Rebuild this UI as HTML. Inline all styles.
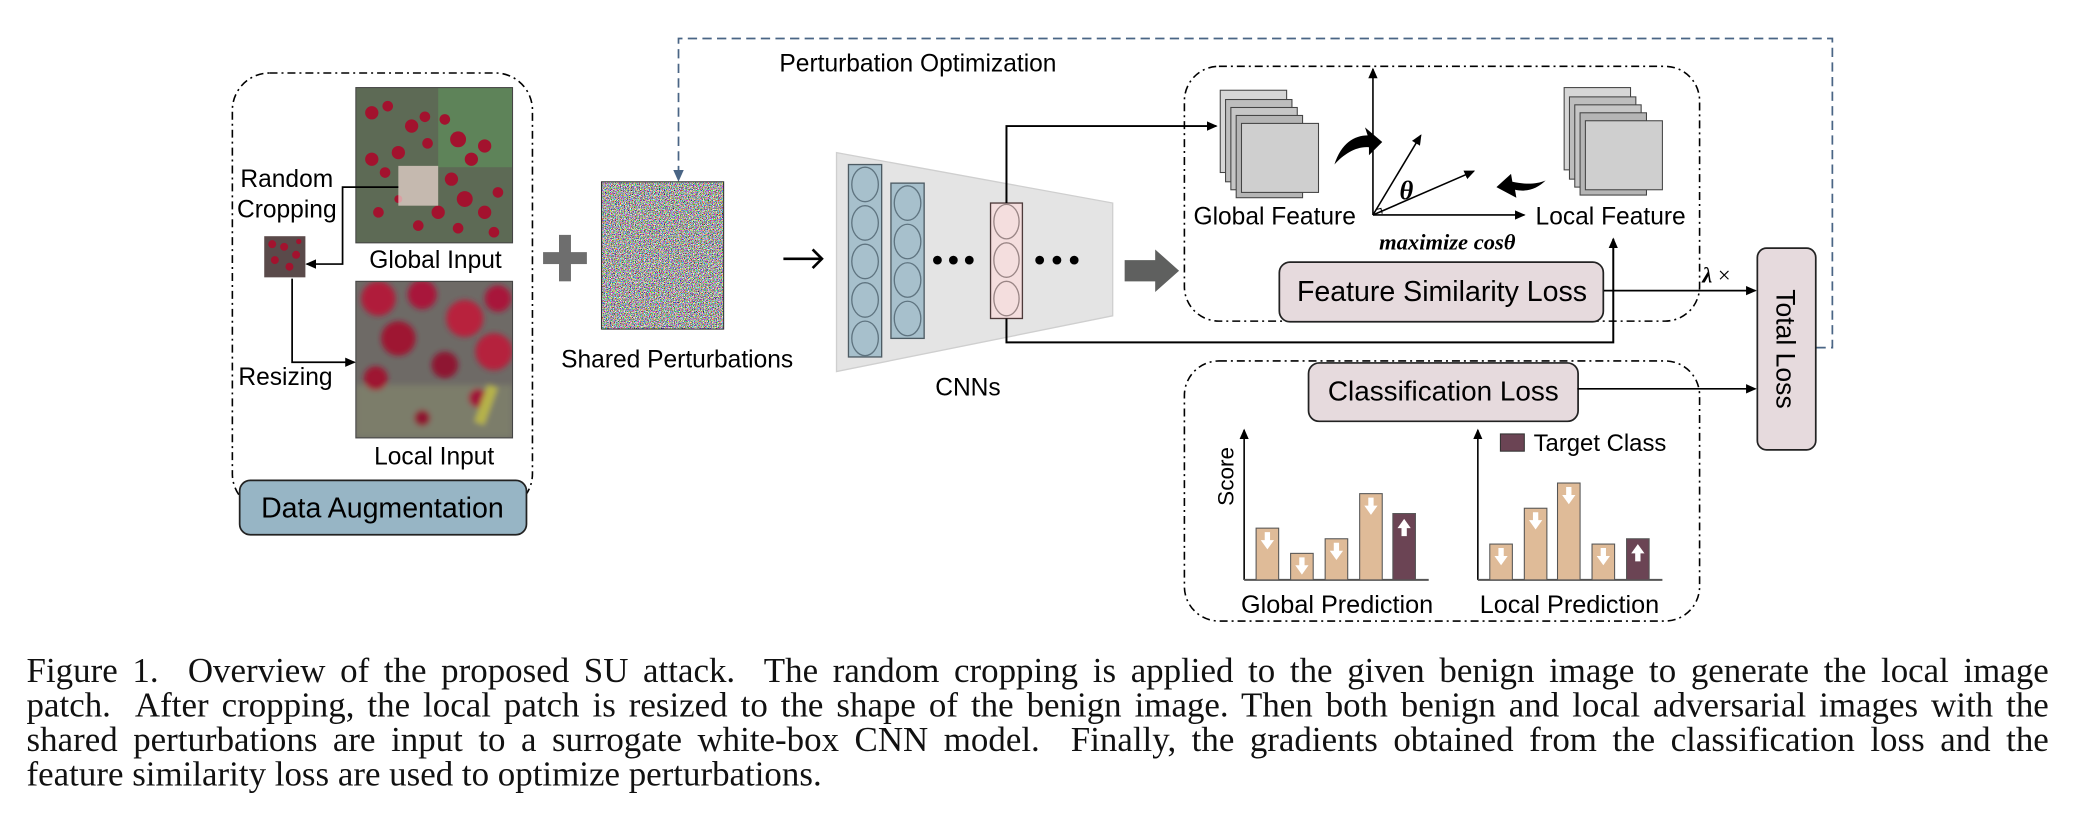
<!DOCTYPE html>
<html><head><meta charset="utf-8"><style>
html,body{margin:0;padding:0;background:#fff;}
#wrap{position:absolute;left:0;top:0;width:1568px;height:630px;transform:scale(1.3278,1.327);transform-origin:0 0;font-family:"Liberation Sans",sans-serif;}
svg{position:absolute;left:0;top:0;}
.cap{position:absolute;left:20px;top:493px;width:1523px;font-family:"Liberation Serif",serif;font-size:26.3px;line-height:26px;color:#111;}
.cap div{text-align:justify;text-align-last:justify;white-space:nowrap;}
.cap div.l{text-align-last:left;}
</style></head><body><div id="wrap">
<svg width="1568" height="630" viewBox="0 0 1568 630">
<defs>
<marker id="a" markerWidth="8" markerHeight="8" refX="7" refY="4" orient="auto" markerUnits="userSpaceOnUse"><path d="M0,0.5 L8,4 L0,7.5 z" fill="#000"/></marker>
<marker id="b" markerWidth="9" markerHeight="9" refX="8" refY="4.5" orient="auto" markerUnits="userSpaceOnUse"><path d="M0,0.5 L9,4.5 L0,8.5 z" fill="#4a6585"/></marker>
<filter id="nz" x="0" y="0" width="100%" height="100%"><feTurbulence type="fractalNoise" baseFrequency="1.6" numOctaves="1" seed="3"/><feColorMatrix type="matrix" values="5 0 0 0 -2  0 5 0 0 -2  0 0 5 0 -2  0 0 0 0 1"/></filter>
<filter id="bl"><feGaussianBlur stdDeviation="2"/></filter>
<clipPath id="cg"><rect x="268" y="66" width="118" height="117"/></clipPath>
<clipPath id="cl"><rect x="268" y="212" width="118" height="118"/></clipPath>
</defs>

<polyline points="1368,262 1380,262 1380,29 511,29 511,136" fill="none" stroke="#4a6585" stroke-width="1.3" stroke-dasharray="7 4" marker-end="url(#b)"/>
<text x="587" y="54" font-size="18.5">Perturbation Optimization</text>

<rect x="175" y="55" width="226" height="330" rx="28" fill="none" stroke="#000" stroke-width="1.2" stroke-dasharray="6 3 1.5 3"/>
<g clip-path="url(#cg)">
<rect x="268" y="66" width="118" height="117" fill="#5d6a55"/>
<rect x="330" y="66" width="56" height="60" fill="#5f8a5a" opacity=".8"/>
<g fill="#a3122e">
<circle cx="280" cy="85" r="5"/><circle cx="292" cy="80" r="4"/><circle cx="310" cy="95" r="5"/><circle cx="320" cy="88" r="4"/><circle cx="345" cy="105" r="6"/><circle cx="355" cy="120" r="5"/><circle cx="365" cy="110" r="5"/><circle cx="280" cy="120" r="5"/><circle cx="290" cy="130" r="4"/><circle cx="300" cy="115" r="5"/><circle cx="340" cy="135" r="5"/><circle cx="350" cy="150" r="6"/><circle cx="365" cy="160" r="5"/><circle cx="375" cy="145" r="4"/><circle cx="330" cy="160" r="5"/><circle cx="315" cy="170" r="4"/><circle cx="285" cy="160" r="4"/><circle cx="300" cy="150" r="3"/><circle cx="372" cy="175" r="4"/><circle cx="345" cy="172" r="4"/><circle cx="322" cy="108" r="4"/><circle cx="335" cy="90" r="4"/>
</g>
<rect x="300" y="125" width="30" height="30" fill="#f2dcd6" opacity=".7"/>
</g>
<rect x="268" y="66" width="118" height="117" fill="none" stroke="#444" stroke-width=".8"/>
<g clip-path="url(#cl)">
<rect x="268" y="212" width="118" height="118" fill="#6e6a66"/>
<g filter="url(#bl)">
<rect x="268" y="290" width="118" height="40" fill="#7c7d6a"/>
<circle cx="285" cy="225" r="13" fill="#b01a3a"/><circle cx="318" cy="222" r="11" fill="#a8183a"/><circle cx="350" cy="240" r="14" fill="#b8213e"/><circle cx="375" cy="225" r="10" fill="#a8183a"/><circle cx="300" cy="255" r="13" fill="#9e1532"/><circle cx="372" cy="265" r="14" fill="#b5203c"/><circle cx="335" cy="275" r="10" fill="#8e1430"/><circle cx="283" cy="285" r="9" fill="#9e1532"/><circle cx="318" cy="315" r="6" fill="#8e1430"/><circle cx="360" cy="300" r="7" fill="#a0183a"/>
<rect x="362" y="290" width="8" height="30" fill="#b6b24a" transform="rotate(20 366 305)"/>
</g>
</g>
<rect x="268" y="212" width="118" height="118" fill="none" stroke="#444" stroke-width=".8"/>
<rect x="199" y="178" width="31" height="31" fill="#5a4a4a"/>
<g fill="#a3122e"><circle cx="205" cy="184" r="3"/><circle cx="214" cy="186" r="3"/><circle cx="223" cy="192" r="3"/><circle cx="207" cy="196" r="3"/><circle cx="218" cy="201" r="3"/><circle cx="225" cy="182" r="2"/></g>
<polyline points="300,141 258,141 258,199 231,199" fill="none" stroke="#000" stroke-width="1.3" marker-end="url(#a)"/>
<polyline points="220,210 220,273 267,273" fill="none" stroke="#000" stroke-width="1.3" marker-end="url(#a)"/>
<text x="216" y="141" font-size="18.5" text-anchor="middle">Random</text>
<text x="216" y="164" font-size="18.5" text-anchor="middle">Cropping</text>
<text x="328" y="202" font-size="18.5" text-anchor="middle">Global Input</text>
<text x="215" y="290" font-size="18.5" text-anchor="middle">Resizing</text>
<text x="327" y="350" font-size="18.5" text-anchor="middle">Local Input</text>
<rect x="180.5" y="362" width="216" height="41" rx="8" fill="#97b5c5" stroke="#222" stroke-width="1.3"/>
<text x="288" y="390" font-size="21.5" text-anchor="middle">Data Augmentation</text>

<rect x="409" y="190" width="33" height="9" fill="#6e6e6e"/><rect x="421" y="177" width="9" height="35" fill="#6e6e6e"/>

<rect x="453" y="137" width="92" height="111" fill="#888" filter="url(#nz)"/>
<rect x="453" y="137" width="92" height="111" fill="none" stroke="#333" stroke-width=".8"/>
<text x="510" y="277" font-size="18.5" text-anchor="middle">Shared Perturbations</text>

<line x1="590" y1="195" x2="618" y2="195" stroke="#000" stroke-width="2"/>
<path d="M612,188 L619,195 L612,202" fill="none" stroke="#000" stroke-width="2"/>

<polygon points="630,115 838,153 838,238 630,280" fill="#e4e4e4" stroke="#cfcfcf"/>
<rect x="639" y="124" width="25" height="145" fill="#a7c0cc" stroke="#4d5b63"/>
<g fill="none" stroke="#5f7480"><ellipse cx="651.5" cy="139" rx="10" ry="13"/><ellipse cx="651.5" cy="168" rx="10" ry="13"/><ellipse cx="651.5" cy="197" rx="10" ry="13"/><ellipse cx="651.5" cy="226" rx="10" ry="13"/><ellipse cx="651.5" cy="255" rx="10" ry="13"/></g>
<rect x="671" y="138" width="25" height="117" fill="#a7c0cc" stroke="#4d5b63"/>
<g fill="none" stroke="#5f7480"><ellipse cx="683.5" cy="153" rx="10" ry="13"/><ellipse cx="683.5" cy="182" rx="10" ry="13"/><ellipse cx="683.5" cy="211" rx="10" ry="13"/><ellipse cx="683.5" cy="240" rx="10" ry="13"/></g>
<g fill="#000"><circle cx="706" cy="196" r="3.3"/><circle cx="718" cy="196" r="3.3"/><circle cx="730" cy="196" r="3.3"/><circle cx="783" cy="196" r="3.3"/><circle cx="796" cy="196" r="3.3"/><circle cx="809" cy="196" r="3.3"/></g>
<rect x="746" y="153" width="24" height="87" fill="#f4dede" stroke="#4d3a3a"/>
<g fill="none" stroke="#9a8686"><ellipse cx="758" cy="167" rx="9.5" ry="13"/><ellipse cx="758" cy="196" rx="9.5" ry="13"/><ellipse cx="758" cy="225" rx="9.5" ry="13"/></g>
<text x="729" y="298" font-size="18.5" text-anchor="middle">CNNs</text>
<polyline points="758,153 758,95 916,95" fill="none" stroke="#000" stroke-width="1.5" marker-end="url(#a)"/>
<polyline points="758,240 758,258 1215,258 1215,180" fill="none" stroke="#000" stroke-width="1.5" marker-end="url(#a)"/>
<polygon points="847,196 870,196 870,188 888,204 870,220 870,212 847,212" fill="#5f605f"/>

<rect x="892" y="50" width="388" height="192" rx="26" fill="none" stroke="#000" stroke-width="1.2" stroke-dasharray="6 3 1.5 3"/>
<g stroke="#444" stroke-width=".8">
<rect x="919" y="68" width="50" height="62" fill="#d6d6d6"/><rect x="923" y="75" width="50" height="62" fill="#bdbdbd"/><rect x="927" y="81" width="50" height="62" fill="#c6c6c6"/><rect x="931" y="87" width="50" height="62" fill="#b5b5b5"/><rect x="935" y="93" width="58" height="52" fill="#cfcfcf"/>
<rect x="1178" y="66" width="50" height="62" fill="#d6d6d6"/><rect x="1182" y="73" width="50" height="62" fill="#bdbdbd"/><rect x="1186" y="79" width="50" height="62" fill="#c6c6c6"/><rect x="1190" y="85" width="50" height="62" fill="#b5b5b5"/><rect x="1194" y="91" width="58" height="52" fill="#cfcfcf"/>
</g>
<line x1="1034" y1="162" x2="1034" y2="52" stroke="#000" stroke-width="1.2" marker-end="url(#a)"/>
<line x1="1034" y1="162" x2="1148" y2="162" stroke="#000" stroke-width="1.2" marker-end="url(#a)"/>
<line x1="1034" y1="162" x2="1070" y2="102" stroke="#000" stroke-width="1.2" marker-end="url(#a)"/>
<line x1="1034" y1="162" x2="1110" y2="129" stroke="#000" stroke-width="1.2" marker-end="url(#a)"/>
<path d="M1036,158 l4,-1 l1,4" fill="none" stroke="#000" stroke-width=".8"/>
<text x="1054" y="150" font-family="Liberation Serif,serif" font-weight="bold" font-style="italic" font-size="20">θ</text>
<path d="M1005,124 C1010,108 1020,102 1030,102 L1028,96 L1041,107 L1031,117 L1031,111 C1022,110 1012,116 1005,124 z" fill="#000"/>
<path d="M1164,136 C1158,142 1150,145 1141,143 L1142,149 L1127,141 L1138,131 L1139,137 C1148,139 1157,139 1164,136 z" fill="#000"/>
<text x="960" y="169" font-size="18.5" text-anchor="middle">Global Feature</text>
<text x="1213" y="169" font-size="18.5" text-anchor="middle">Local Feature</text>
<text x="1090" y="188" font-family="Liberation Serif,serif" font-weight="bold" font-style="italic" font-size="17" text-anchor="middle">maximize cosθ</text>
<rect x="963.5" y="197.5" width="244" height="45" rx="8" fill="#e6dadd" stroke="#222" stroke-width="1.3"/>
<text x="1086" y="227" font-size="21.5" text-anchor="middle">Feature Similarity Loss</text>
<line x1="1208" y1="219" x2="1322" y2="219" stroke="#000" stroke-width="1.3" marker-end="url(#a)"/>
<text x="1282" y="213" font-family="Liberation Serif,serif" font-size="17"><tspan font-weight="bold" font-style="italic">λ</tspan> ×</text>

<rect x="1323.5" y="187" width="44" height="152" rx="7" fill="#e6dadd" stroke="#222" stroke-width="1.3"/>
<text x="0" y="0" font-size="20" text-anchor="middle" transform="translate(1338,263) rotate(90)">Total Loss</text>

<rect x="892" y="272" width="388" height="196" rx="26" fill="none" stroke="#000" stroke-width="1.2" stroke-dasharray="6 3 1.5 3"/>
<rect x="985.5" y="273.5" width="203" height="44" rx="8" fill="#e6dadd" stroke="#222" stroke-width="1.3"/>
<text x="1087" y="302" font-size="21" text-anchor="middle">Classification Loss</text>
<line x1="1188" y1="293" x2="1322" y2="293" stroke="#000" stroke-width="1.3" marker-end="url(#a)"/>

<line x1="937" y1="437" x2="937" y2="324" stroke="#000" stroke-width="1.2" marker-end="url(#a)"/>
<line x1="937" y1="437" x2="1076" y2="437" stroke="#555" stroke-width="1.5"/>
<line x1="1113" y1="437" x2="1113" y2="324" stroke="#000" stroke-width="1.2" marker-end="url(#a)"/>
<line x1="1113" y1="437" x2="1252" y2="437" stroke="#555" stroke-width="1.5"/>
<g stroke="#555" stroke-width=".8">
<rect x="946" y="398" width="17" height="39" fill="#dfbb98"/><rect x="972" y="417" width="17" height="20" fill="#dfbb98"/><rect x="998" y="406" width="17" height="31" fill="#dfbb98"/><rect x="1024" y="372" width="17" height="65" fill="#dfbb98"/><rect x="1049" y="387" width="17" height="50" fill="#6b4454"/>
<rect x="1122" y="410" width="17" height="27" fill="#dfbb98"/><rect x="1148" y="383" width="17" height="54" fill="#dfbb98"/><rect x="1173" y="364" width="17" height="73" fill="#dfbb98"/><rect x="1199" y="410" width="17" height="27" fill="#dfbb98"/><rect x="1225" y="406" width="17" height="31" fill="#6b4454"/>
</g>
<g fill="#fff">
<path d="M952.5,401 h4 v6 h3 l-5,7 l-5,-7 h3z"/><path d="M978.5,420 h4 v6 h3 l-5,7 l-5,-7 h3z"/><path d="M1004.5,409 h4 v6 h3 l-5,7 l-5,-7 h3z"/><path d="M1030.5,375 h4 v6 h3 l-5,7 l-5,-7 h3z"/>
<path d="M1128.5,413 h4 v6 h3 l-5,7 l-5,-7 h3z"/><path d="M1154.5,386 h4 v6 h3 l-5,7 l-5,-7 h3z"/><path d="M1179.5,367 h4 v6 h3 l-5,7 l-5,-7 h3z"/><path d="M1205.5,413 h4 v6 h3 l-5,7 l-5,-7 h3z"/>
<path d="M1055.5,404 h4 v-6 h3 l-5,-7 l-5,7 h3z"/><path d="M1231.5,423 h4 v-6 h3 l-5,-7 l-5,7 h3z"/>
</g>
<rect x="1130" y="327" width="18" height="13" fill="#6b4454" stroke="#333" stroke-width=".8"/>
<text x="1155" y="340" font-size="18">Target Class</text>
<text x="0" y="0" font-size="17" text-anchor="middle" transform="translate(929,359) rotate(-90)">Score</text>
<text x="1007" y="462" font-size="19" text-anchor="middle">Global Prediction</text>
<text x="1182" y="462" font-size="19" text-anchor="middle">Local Prediction</text>
</svg>
<div class="cap">
<div>Figure 1.&nbsp; Overview of the proposed SU attack.&nbsp; The random cropping is applied to the given benign image to generate the local image</div>
<div>patch.&nbsp; After cropping, the local patch is resized to the shape of the benign image. Then both benign and local adversarial images with the</div>
<div>shared perturbations are input to a surrogate white-box CNN model.&nbsp; Finally, the gradients obtained from the classification loss and the</div>
<div class="l">feature similarity loss are used to optimize perturbations.</div>
</div>
</div></body></html>
